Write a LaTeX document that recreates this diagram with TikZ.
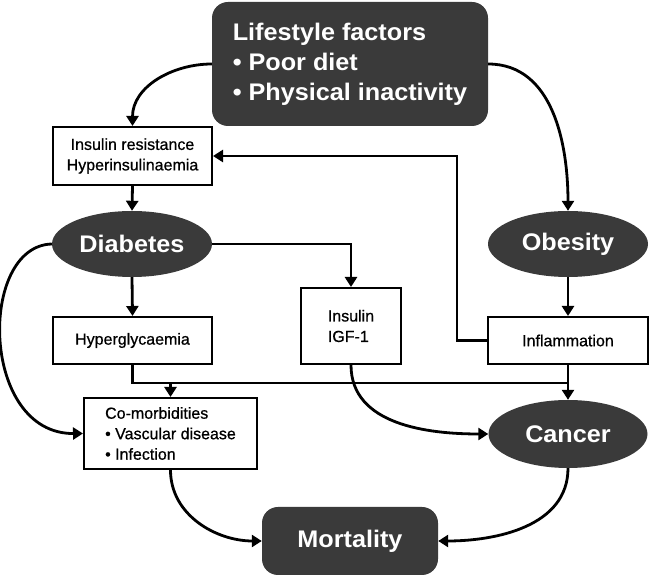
\documentclass[tikz,border=0pt]{standalone}
\usepackage{fontspec}
\setmainfont{Liberation Sans}
\newfontfamily\bigfont{Liberation Sans}[FakeStretch=1.05]
\newfontfamily\medfont{Liberation Sans}[FakeBold=0.7]
\usetikzlibrary{shapes.geometric,arrows.meta}
\definecolor{darkfill}{RGB}{58,58,58}
\tikzset{
  big/.style={font=\bigfont\fontsize{24}{30}\selectfont\bfseries, text=white},
  small/.style={font=\medfont\fontsize{16}{20.5}\selectfont},
  darkbox/.style={big, fill=darkfill, rounded corners=16pt, inner sep=0pt, align=left},
  darkell/.style={big, fill=darkfill, ellipse, inner sep=0pt},
  lightbox/.style={small, draw=black, line width=2pt, fill=white, inner sep=0pt},
  arr/.style={line width=2.8pt, -{Triangle[length=10pt,width=12pt]}},
  ln/.style={line width=2.8pt},
}
\begin{document}
\begin{tikzpicture}[x=1pt,y=1pt]
\useasboundingbox (0,0) rectangle (649,576);
\node[darkbox, minimum width=276pt, minimum height=124pt] (life) at (350,512)
  {Lifestyle factors\\\textbullet\ Poor diet\\\textbullet\ Physical inactivity};
\node[lightbox, align=center, minimum width=159pt, minimum height=58pt] (ins) at (132.5,420)
  {Insulin resistance\\Hyperinsulinaemia};
\node[darkell, minimum width=160pt, minimum height=66pt] (diab) at (132,332) {Diabetes};
\node[darkell, minimum width=160pt, minimum height=66pt] (obes) at (568,332) {Obesity};
\node[lightbox, minimum width=159pt, minimum height=47pt] (hyper) at (132.5,235.5) {Hyperglycaemia};
\node[lightbox, align=left, minimum width=100pt, minimum height=76pt] (igf) at (351,250) {Insulin\\IGF-1};
\node[lightbox, minimum width=160pt, minimum height=47pt] (infl) at (568,235.5) {Inflammation};
\node[lightbox, align=left, minimum width=173pt, minimum height=71pt] (comor) at (170.5,142.5)
  {Co-morbidities\\\textbullet\ Vascular disease\\\textbullet\ Infection};
\node[darkell, minimum width=159pt, minimum height=68pt] (canc) at (568,142) {Cancer};
\node[darkbox, minimum width=176pt, minimum height=68pt] (mort) at (350,35) {Mortality};

\coordinate (j) at (170.5,193);
\coordinate (fb) at (457,235.5);

\draw[arr] (life.west) to[out=180,in=90] (ins.north);
\draw[arr] (life.east) to[out=0,in=90] (obes.north);
\draw[arr] (ins.south) -- (diab.north);
\draw[arr] (diab.east) -| (igf.north);
\draw[arr] (infl.west) -- (fb) |- (ins.east);
\draw[arr] (diab.south) -- (hyper.north);
\draw[arr] (obes.south) -- (infl.north);
\draw[ln] (hyper.south) |- (infl.south |- j);
\draw[arr] (j) -- (comor.north);
\draw[arr] (infl.south) -- (canc.north);
\draw[arr] (diab.west) .. controls (-22,330) and (-20,142) .. (comor.west);
\draw[arr] (igf.south) to[out=-90,in=180] (canc.west);
\draw[arr] (comor.south) to[out=-90,in=180] (mort.west);
\draw[arr] (canc.south) to[out=-90,in=0] (mort.east);
\end{tikzpicture}
\end{document}
